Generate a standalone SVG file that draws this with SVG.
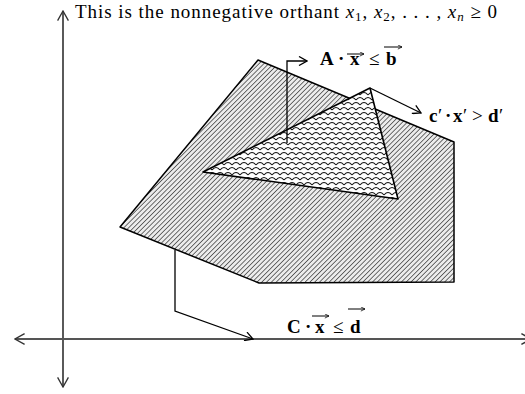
<svg xmlns="http://www.w3.org/2000/svg" width="525" height="394" viewBox="0 0 525 394">
<defs>
<style>
.lbl{font-family:"Liberation Serif","Times New Roman",serif;font-size:19px;fill:#000}
.b{font-weight:bold}
.n{font-weight:normal}
.it{font-style:italic}
.ln{fill:none;stroke:#000;stroke-width:1.3}
.vec{fill:none;stroke:#000;stroke-width:1}
</style>
<pattern id="hatch" patternUnits="userSpaceOnUse" width="3.4" height="3.4" patternTransform="rotate(45)">
<rect width="3.4" height="3.4" fill="#ececec"/>
<line x1="0" y1="0" x2="0" y2="3.4" stroke="#333" stroke-width="1.4"/>
</pattern>
<pattern id="scale" patternUnits="userSpaceOnUse" width="8" height="10">
<rect width="8" height="10" fill="#fff"/>
<path d="M0,5 Q4,0 8,5 M-4,10 Q0,5 4,10 M4,10 Q8,5 12,10 M-4,0 Q0,-5 4,0 M4,0 Q8,-5 12,0" fill="none" stroke="#111" stroke-width="1.1"/>
</pattern>
<marker id="open" viewBox="0 0 10 10" refX="9" refY="5" markerWidth="10" markerHeight="10" markerUnits="userSpaceOnUse" orient="auto">
<path d="M1,0.5 L9,5 L1,9.5" fill="none" stroke="#000" stroke-width="1.3"/>
</marker>
<marker id="open2" viewBox="0 0 10 10" refX="9" refY="5" markerWidth="12" markerHeight="12" markerUnits="userSpaceOnUse" orient="auto-start-reverse">
<path d="M1,0.5 L9,5 L1,9.5" fill="none" stroke="#333" stroke-width="1.1"/>
</marker>
<marker id="vm" viewBox="0 0 6 6" refX="5.5" refY="3" markerWidth="5" markerHeight="5" markerUnits="userSpaceOnUse" orient="auto">
<path d="M0.5,0.5 L5.5,3 L0.5,5.5" fill="none" stroke="#000" stroke-width="0.9"/>
</marker>
</defs>

<g id="axes">
<line x1="63" y1="11" x2="63" y2="387" stroke="#000" stroke-width="1.3" marker-start="url(#open2)" marker-end="url(#open2)"/>
<line x1="15" y1="339" x2="531" y2="339" stroke="#555" stroke-width="2" marker-start="url(#open2)" marker-end="url(#open2)"/>
</g>

<g id="polyhedron">
<polygon points="258,60 454,142 454,282 259,283 120,227" fill="url(#hatch)" stroke="#000" stroke-width="1.5" stroke-linejoin="round"/>
</g>

<g id="triangle">
<polygon points="203,172 370,88 398,199" fill="url(#scale)" stroke="#000" stroke-width="1.6" stroke-linejoin="round"/>
</g>

<g id="connectors">
<polyline class="ln" points="287,143 287,61 307,61" marker-end="url(#open)"/>
<line class="ln" x1="370" y1="88" x2="421" y2="113" marker-end="url(#open)"/>
<polyline class="ln" points="175,250 175,311 253,339" marker-end="url(#open)"/>
</g>

<g id="title">
<text class="lbl" x="75" y="18" font-size="19" textLength="422" lengthAdjust="spacing">This is the nonnegative orthant <tspan class="it">x</tspan><tspan font-size="13" dy="3">1</tspan><tspan dy="-3">, </tspan><tspan class="it">x</tspan><tspan font-size="13" dy="3">2</tspan><tspan dy="-3">, . . . , </tspan><tspan class="it">x</tspan><tspan font-size="13" class="it" dy="3">n</tspan><tspan dy="-3"> ≥ 0</tspan></text>
</g>

<g id="label-A">
<text class="lbl b" y="65"><tspan x="320">A</tspan><tspan x="338">·</tspan><tspan x="350">x</tspan><tspan x="369" class="n">≤</tspan><tspan x="386">b</tspan></text>
<line class="vec" x1="347" y1="54" x2="364" y2="54" marker-end="url(#vm)"/>
<line class="vec" x1="384" y1="47" x2="402" y2="47" marker-end="url(#vm)"/>
</g>

<g id="label-c">
<text class="lbl b" y="122"><tspan x="429">c</tspan><tspan x="438" class="n">′</tspan><tspan x="445">·</tspan><tspan x="453">x</tspan><tspan x="463" class="n">′</tspan><tspan x="472" class="n">&gt;</tspan><tspan x="488">d</tspan><tspan x="499" class="n">′</tspan></text>
</g>

<g id="label-C">
<text class="lbl b" y="333"><tspan x="287">C</tspan><tspan x="305">·</tspan><tspan x="315">x</tspan><tspan x="333" class="n">≤</tspan><tspan x="350">d</tspan></text>
<line class="vec" x1="312" y1="316" x2="329" y2="316" marker-end="url(#vm)"/>
<line class="vec" x1="348" y1="309" x2="365" y2="309" marker-end="url(#vm)"/>
</g>
</svg>
